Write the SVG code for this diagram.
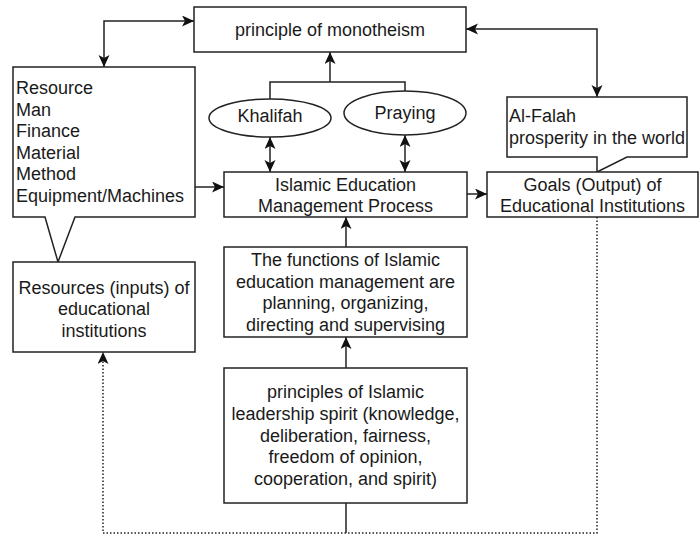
<svg xmlns="http://www.w3.org/2000/svg" width="699" height="535" viewBox="0 0 699 535">
<style>
.box{fill:#fff;stroke:#222;stroke-width:1.5}
.ln{fill:none;stroke:#222;stroke-width:1.5}
.dot{fill:none;stroke:#222;stroke-width:1.5;stroke-dasharray:1.5 2}
text{font-family:"Liberation Sans",Arial,sans-serif;font-size:18px;fill:#1a1a1a}
.c{text-anchor:middle}
</style>
<defs>
<marker id="ah" markerUnits="userSpaceOnUse" markerWidth="13" markerHeight="12" refX="12" refY="5.5" orient="auto-start-reverse">
<path d="M0,0 L12,5.5 L0,11 L3,5.5 Z" fill="#111"/>
</marker>
</defs>
<rect width="699" height="535" fill="#fff"/>
<g id="connectors">
<path class="ln" d="M194,21 H104 V67" marker-start="url(#ah)" marker-end="url(#ah)"/>
<path class="ln" d="M466,29 H597 V97" marker-start="url(#ah)" marker-end="url(#ah)"/>
<path class="ln" d="M270,99 V82 H405 V91"/>
<path class="ln" d="M330,82 V52" marker-end="url(#ah)"/>
<path class="ln" d="M270,137 V172" marker-start="url(#ah)" marker-end="url(#ah)"/>
<path class="ln" d="M405,135 V172" marker-start="url(#ah)" marker-end="url(#ah)"/>
<path class="ln" d="M195,187 H224" marker-end="url(#ah)"/>
<path class="ln" d="M467,194 H487" marker-end="url(#ah)"/>
<path class="ln" d="M346,247 V217" marker-end="url(#ah)"/>
<path class="ln" d="M346,368 V337" marker-end="url(#ah)"/>
<path class="ln" d="M346,503 V533"/>
<path class="dot" d="M597,217 V533 H103 V352" marker-end="url(#ah)"/>
</g>
<g id="monotheism">
<rect class="box" x="194" y="7" width="272" height="45"/>
<text class="c" x="330" y="36">principle of monotheism</text>
</g>
<g id="resource">
<path class="box" d="M13,67 H195 V217 H75 L58,262 L45,217 H13 Z"/>
<text x="16" y="94">Resource</text>
<text x="16" y="115.6">Man</text>
<text x="16" y="137.2">Finance</text>
<text x="16" y="158.8">Material</text>
<text x="16" y="180.4">Method</text>
<text x="16" y="202">Equipment/Machines</text>
</g>
<g id="inputs">
<rect class="box" x="13" y="262" width="182" height="90"/>
<text class="c" x="104" y="293.5">Resources (inputs) of</text>
<text class="c" x="104" y="315.1">educational</text>
<text class="c" x="104" y="336.7">institutions</text>
</g>
<g id="khalifah">
<ellipse class="box" cx="270" cy="118" rx="61" ry="19"/>
<text class="c" x="270" y="121.5">Khalifah</text>
</g>
<g id="praying">
<ellipse class="box" cx="405" cy="113" rx="61" ry="22"/>
<text class="c" x="405" y="118.5">Praying</text>
</g>
<g id="process">
<rect class="box" x="224" y="172" width="243" height="45"/>
<text class="c" x="345.5" y="190.5">Islamic Education</text>
<text class="c" x="345.5" y="212">Management Process</text>
</g>
<g id="functions">
<rect class="box" x="224" y="247" width="243" height="90"/>
<text class="c" x="345.5" y="266">The functions of Islamic</text>
<text class="c" x="345.5" y="287.6">education management are</text>
<text class="c" x="345.5" y="309.2">planning, organizing,</text>
<text class="c" x="345.5" y="330.8">directing and supervising</text>
</g>
<g id="principles">
<rect class="box" x="224" y="368" width="243" height="135"/>
<text class="c" x="345.5" y="398.3">principles of Islamic</text>
<text class="c" x="345.5" y="419.9">leadership spirit (knowledge,</text>
<text class="c" x="345.5" y="441.5">deliberation, fairness,</text>
<text class="c" x="345.5" y="463.1">freedom of opinion,</text>
<text class="c" x="345.5" y="484.7">cooperation, and spirit)</text>
</g>
<g id="alfalah">
<path class="box" d="M507,97 H687 V157 H627 L597,172 V157 H507 Z"/>
<text x="509" y="122">Al-Falah</text>
<text x="509" y="143.6">prosperity in the world</text>
</g>
<g id="goals">
<rect class="box" x="487" y="172" width="211" height="45"/>
<text class="c" x="592.5" y="190.5">Goals (Output) of</text>
<text class="c" x="592.5" y="212">Educational Institutions</text>
</g>
</svg>
